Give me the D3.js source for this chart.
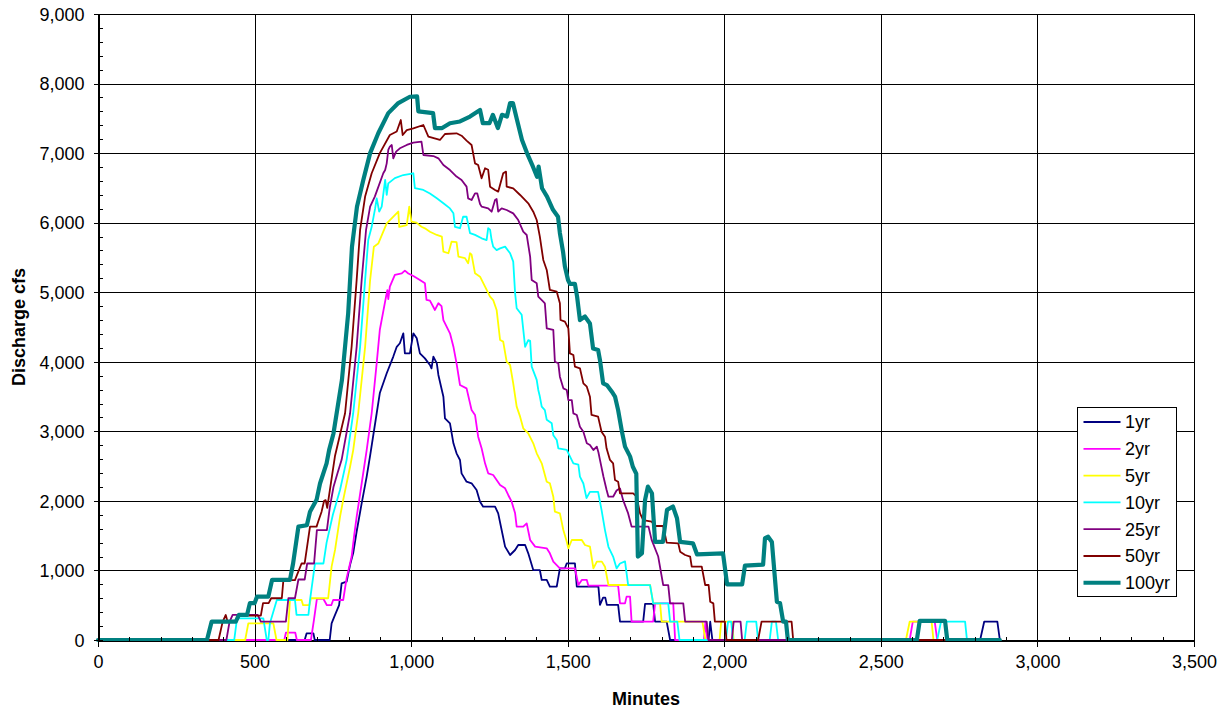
<!DOCTYPE html>
<html>
<head>
<meta charset="utf-8">
<script src="https://cdn.jsdelivr.net/npm/d3@7"></script>
<style>
  html, body { margin: 0; padding: 0; background: #fff; }
  svg { display: block; font-family: "Liberation Sans", Arial, sans-serif; }
</style>
</head>
<body>
<svg id="chart" width="1230" height="712"></svg>
<script>
// Discharge hydrographs (minute, cfs) for each storm return period
const q1yr = [[0,0],[660,0],[666,95],[688,95],[692,0],[740,0],[746,240],[755,340],[770,500],[778,815],[794,840],[805,1080],[815,1250],[826,1560],[842,1965],[858,2350],[869,2650],[890,3260],[900,3550],[922,3835],[943,4075],[954,4215],[964,4266],[975,4409],[980,4121],[996,4121],[1007,4409],[1018,4337],[1028,4121],[1044,4049],[1060,3954],[1065,3906],[1071,4073],[1082,3978],[1087,3810],[1098,3594],[1103,3498],[1108,3187],[1124,3115],[1135,2828],[1145,2684],[1156,2588],[1161,2396],[1177,2276],[1193,2253],[1209,2157],[1220,1989],[1230,1917],[1268,1917],[1278,1821],[1289,1581],[1300,1342],[1316,1222],[1332,1294],[1342,1366],[1364,1366],[1374,1246],[1390,1006],[1411,1006],[1417,863],[1433,863],[1443,767],[1465,767],[1475,1031],[1491,1031],[1497,1103],[1523,1103],[1529,767],[1598,767],[1603,505],[1613,610],[1620,610],[1625,505],[1661,505],[1667,263],[1741,263],[1747,520],[1773,520],[1779,263],[1816,263],[1827,0],[1950,0],[1955,263],[1962,0],[2817,0],[2830,263],[2872,263],[2880,0]];

const q2yr = [[0,0],[595,0],[600,105],[630,105],[635,0],[680,0],[690,300],[699,590],[720,590],[731,500],[745,500],[751,575],[783,575],[794,890],[810,1200],[818,1500],[826,1770],[842,2250],[858,2730],[874,3260],[890,3980],[900,4460],[920,4940],[924,5030],[927,4900],[932,5080],[948,5250],[970,5270],[980,5310],[991,5270],[1007,5233],[1028,5176],[1044,5128],[1049,4890],[1060,4880],[1076,4745],[1087,4841],[1097,4800],[1103,4600],[1124,4409],[1135,4217],[1145,3978],[1156,3666],[1177,3618],[1193,3307],[1204,3235],[1214,2923],[1225,2756],[1236,2540],[1246,2396],[1262,2372],[1273,2300],[1284,2228],[1300,2181],[1310,2085],[1321,1989],[1332,1821],[1337,1629],[1358,1629],[1369,1677],[1380,1438],[1396,1342],[1433,1318],[1443,1246],[1454,1127],[1475,1031],[1523,1031],[1534,791],[1545,863],[1561,863],[1566,781],[1661,781],[1667,527],[1683,527],[1688,623],[1699,623],[1704,263],[1773,263],[1779,527],[1837,527],[1843,0],[1935,0],[1940,263],[1946,0],[2592,0],[2602,263],[2672,263],[2680,0],[2880,0]];

const q5yr = [[0,0],[470,0],[480,240],[560,240],[570,0],[605,0],[613,575],[650,575],[655,500],[675,500],[680,600],[735,600],[746,1055],[757,1295],[773,1775],[783,2015],[805,2490],[815,2730],[831,3260],[853,4215],[869,5175],[881,5655],[895,5700],[922,5990],[948,6110],[959,6160],[962,5940],[986,5966],[994,6230],[1001,6014],[1017,6000],[1033,5942],[1044,5918],[1060,5870],[1082,5823],[1098,5799],[1103,5584],[1119,5560],[1129,5727],[1145,5720],[1151,5511],[1172,5490],[1182,5416],[1188,5560],[1193,5540],[1204,5272],[1220,5224],[1236,5080],[1252,4936],[1262,4888],[1273,4745],[1284,4313],[1294,4290],[1305,4001],[1316,3954],[1326,3690],[1337,3355],[1348,3211],[1358,3043],[1374,2972],[1390,2828],[1401,2684],[1417,2540],[1433,2276],[1443,2253],[1454,2060],[1459,1845],[1475,1821],[1486,1581],[1497,1413],[1502,1318],[1513,1438],[1545,1438],[1555,1366],[1571,1342],[1582,1031],[1593,1127],[1609,1127],[1619,1054],[1630,791],[1763,791],[1773,527],[1795,527],[1800,263],[1930,263],[1940,0],[1985,0],[1990,263],[2025,263],[2030,0],[2580,0],[2592,263],[2662,263],[2668,0],[2880,0]];

const q10yr = [[0,0],[435,0],[444,310],[528,310],[539,0],[544,0],[549,240],[571,575],[629,575],[634,360],[672,360],[677,575],[688,935],[693,1100],[720,1100],[730,1400],[750,1800],[773,2160],[794,2590],[815,3260],[837,4215],[853,5175],[863,5750],[874,5940],[885,6205],[890,6350],[898,6160],[906,6230],[917,6615],[922,6400],[927,6565],[948,6640],[975,6685],[1007,6710],[1012,6495],[1039,6470],[1060,6420],[1082,6350],[1103,6280],[1124,6205],[1135,6135],[1140,5940],[1156,5920],[1166,6085],[1177,6085],[1188,5850],[1204,5825],[1225,5775],[1241,5750],[1246,5920],[1252,5900],[1257,5750],[1262,5655],[1273,5605],[1284,5630],[1300,5655],[1316,5560],[1326,5440],[1332,4985],[1337,4770],[1353,4675],[1364,4215],[1374,4310],[1380,4300],[1385,3930],[1401,3740],[1406,3595],[1411,3500],[1417,3355],[1427,3305],[1433,3165],[1449,3115],[1454,2945],[1465,2875],[1470,2755],[1497,2732],[1507,2640],[1518,2540],[1534,2520],[1539,2350],[1550,2250],[1560,2040],[1571,2130],[1597,2130],[1608,1870],[1619,1580],[1630,1340],[1645,1200],[1656,1030],[1667,1100],[1683,1130],[1693,790],[1763,790],[1773,527],[1821,527],[1827,263],[1850,263],[1857,0],[2005,0],[2012,263],[2022,263],[2028,0],[2065,0],[2072,263],[2102,263],[2108,0],[2145,0],[2152,263],[2165,263],[2172,0],[2680,0],[2692,263],[2769,263],[2775,0],[2880,0]];

const q25yr = [[0,0],[410,0],[420,260],[430,360],[510,360],[520,265],[600,265],[608,600],[629,600],[640,870],[660,870],[668,1100],[690,1100],[699,1580],[731,1580],[740,1900],[752,2200],[765,2400],[778,2590],[805,3260],[826,4215],[842,5175],[856,5895],[869,6230],[884,6375],[911,6710],[917,6757],[922,6853],[927,7045],[932,7093],[938,7117],[943,6925],[952,7021],[964,7069],[986,7117],[1007,7150],[1033,7165],[1039,6973],[1071,6958],[1087,6925],[1103,6829],[1124,6757],[1145,6662],[1161,6614],[1177,6518],[1182,6350],[1193,6326],[1204,6422],[1211,6422],[1220,6269],[1225,6230],[1246,6206],[1257,6158],[1268,6326],[1273,6340],[1278,6158],[1289,6206],[1305,6182],[1326,6134],[1342,6038],[1358,5870],[1369,5823],[1380,5511],[1385,5176],[1401,5128],[1406,4936],[1422,4864],[1427,4841],[1433,4481],[1454,4457],[1459,4001],[1470,3978],[1475,3786],[1486,3618],[1497,3594],[1502,3450],[1513,3450],[1518,3259],[1529,3235],[1539,3067],[1550,2995],[1561,2828],[1571,2804],[1582,2732],[1593,2779],[1598,2700],[1603,2590],[1614,2350],[1624,2160],[1630,2060],[1645,2060],[1656,2150],[1667,2180],[1677,2010],[1693,1820],[1704,1630],[1758,1630],[1768,1440],[1789,1200],[1805,790],[1821,790],[1827,527],[1869,527],[1875,263],[1944,263],[1949,0],[2024,0],[2030,263],[2052,263],[2057,0],[2880,0]];

const q50yr = [[0,0],[385,0],[398,260],[408,360],[414,260],[440,260],[446,350],[520,350],[527,530],[545,530],[553,600],[587,600],[592,860],[629,860],[650,1100],[660,1100],[677,1630],[698,1630],[703,1700],[714,1845],[722,2000],[727,2010],[732,1900],[742,2200],[757,2650],[789,3260],[810,4220],[826,5175],[837,5895],[853,6375],[874,6710],[900,7000],[932,7260],[954,7310],[967,7476],[973,7260],[986,7330],[1007,7357],[1039,7404],[1055,7237],[1092,7189],[1108,7275],[1145,7285],[1161,7250],[1177,7180],[1193,7117],[1204,6853],[1214,6830],[1225,6638],[1236,6782],[1246,6760],[1252,6518],[1268,6470],[1278,6446],[1294,6710],[1303,6734],[1305,6518],[1326,6494],[1348,6398],[1374,6278],[1390,6158],[1401,6038],[1411,5799],[1422,5464],[1433,5320],[1438,5176],[1443,5032],[1465,5008],[1475,4841],[1477,4601],[1491,4577],[1502,4481],[1507,4121],[1518,4098],[1523,3930],[1539,3906],[1550,3690],[1561,3642],[1571,3498],[1576,3235],[1597,3211],[1608,2995],[1619,2923],[1624,2756],[1635,2588],[1645,2540],[1651,2300],[1661,2276],[1667,2109],[1709,2109],[1720,2060],[1731,1821],[1741,1725],[1768,1701],[1779,1639],[1805,1639],[1816,1399],[1853,1390],[1859,1270],[1875,1222],[1891,1198],[1896,1054],[1928,1054],[1939,791],[1950,791],[1955,551],[1965,527],[1970,263],[2002,263],[2007,0],[2108,0],[2119,263],[2215,263],[2220,0],[2880,0]];

const q100yr = [[0,0],[348,0],[363,265],[440,265],[450,360],[476,360],[485,530],[500,530],[508,625],[544,625],[556,865],[613,865],[623,1100],[640,1630],[667,1650],[677,1845],[698,2015],[709,2250],[730,2540],[738,2730],[752,2970],[779,3740],[799,4700],[811,5650],[827,6230],[847,6610],[869,7000],[895,7285],[927,7575],[959,7720],[996,7810],[1019,7815],[1023,7600],[1070,7575],[1076,7360],[1099,7360],[1124,7430],[1156,7455],[1188,7525],[1220,7620],[1229,7430],[1250,7430],[1261,7550],[1277,7360],[1290,7550],[1306,7525],[1316,7720],[1325,7720],[1338,7480],[1354,7190],[1370,7000],[1389,6805],[1402,6660],[1407,6805],[1418,6495],[1434,6375],[1453,6185],[1469,6085],[1475,5850],[1485,5585],[1491,5370],[1501,5175],[1507,5120],[1523,5120],[1530,4935],[1539,4600],[1555,4650],[1571,4550],[1581,4190],[1597,4170],[1603,4025],[1613,3690],[1625,3665],[1641,3570],[1651,3500],[1661,3305],[1673,3000],[1683,2780],[1699,2640],[1708,2490],[1719,2390],[1724,1200],[1737,1245],[1747,2015],[1756,2205],[1769,2110],[1779,1410],[1804,1410],[1817,1870],[1836,1920],[1849,1750],[1859,1410],[1900,1390],[1913,1230],[1996,1245],[2009,800],[2057,800],[2066,1070],[2124,1085],[2130,1465],[2140,1485],[2152,1410],[2168,550],[2178,530],[2188,265],[2197,265],[2203,0],[2615,0],[2624,275],[2705,275],[2712,0],[2880,0]];

const seriesLabels = ["1yr", "2yr", "5yr", "10yr", "25yr", "50yr", "100yr"];
const seriesData = [q1yr, q2yr, q5yr, q10yr, q25yr, q50yr, q100yr];

const xTickValues = [0, 500, 1000, 1500, 2000, 2500, 3000, 3500];
const yTickValues = [0, 1000, 2000, 3000, 4000, 5000, 6000, 7000, 8000, 9000];
const xTitle = "Minutes";
const yTitle = "Discharge cfs";

// Appearance of each series line
const lineColors = ["#000080", "#FF00FF", "#FFFF00", "#00FFFF", "#800080", "#800000", "#008080"];
const lineWidths = [1.8, 1.8, 1.8, 1.8, 1.8, 1.8, 4.2];

const plot = { left: 98, right: 1194, top: 14, bottom: 640 };
const FONT = 18;

const svg = d3.select("#chart");

const x = d3.scaleLinear().domain([0, 3500]).range([plot.left, plot.right]);
const y = d3.scaleLinear().domain([0, 9000]).range([plot.bottom, plot.top]);

// Gridlines
const grid = svg.append("g").attr("shape-rendering", "crispEdges");
grid.selectAll("line.gx").data(xTickValues).join("line")
  .attr("x1", d => Math.round(x(d)) + 0.5).attr("x2", d => Math.round(x(d)) + 0.5)
  .attr("y1", plot.top).attr("y2", plot.bottom)
  .attr("stroke", "#000").attr("stroke-width", 1);
grid.selectAll("line.gy").data(yTickValues).join("line")
  .attr("y1", d => Math.round(y(d)) + 0.5).attr("y2", d => Math.round(y(d)) + 0.5)
  .attr("x1", plot.left).attr("x2", plot.right)
  .attr("stroke", "#000").attr("stroke-width", 1);

// Plot border
svg.append("rect")
  .attr("x", plot.left + 0.5).attr("y", plot.top + 0.5)
  .attr("width", plot.right - plot.left).attr("height", plot.bottom - plot.top)
  .attr("fill", "none").attr("stroke", "#000").attr("stroke-width", 1)
  .attr("shape-rendering", "crispEdges");

// Series lines, 1yr underneath through 100yr on top
const line = d3.line().x(d => x(d[0])).y(d => y(d[1]));
svg.append("g").selectAll("path").data(seriesData).join("path")
  .attr("d", d => line(d))
  .attr("fill", "none")
  .attr("stroke", (d, i) => lineColors[i])
  .attr("stroke-width", (d, i) => lineWidths[i])
  .attr("stroke-linejoin", "round")
  .attr("stroke-linecap", "round");

// Axes
const fmt = d3.format(",");
const xAxis = svg.append("g").attr("transform", `translate(0,${plot.bottom + 0.5})`)
  .call(d3.axisBottom(x).tickValues(xTickValues).tickFormat(fmt).tickSize(6).tickSizeOuter(0).tickPadding(4));
const xMinor = svg.append("g").attr("transform", `translate(0,${plot.bottom + 0.5})`)
  .call(d3.axisBottom(x).tickValues(d3.range(0, 3501, 100)).tickFormat("").tickSize(-4).tickSizeOuter(0));
const yAxis = svg.append("g").attr("transform", `translate(${plot.left + 0.5},0)`)
  .call(d3.axisLeft(y).tickValues(yTickValues).tickFormat(fmt).tickSize(5).tickSizeOuter(0).tickPadding(9));
const yMinor = svg.append("g").attr("transform", `translate(${plot.left + 0.5},0)`)
  .call(d3.axisLeft(y).tickValues(d3.range(0, 9001, 200)).tickFormat("").tickSize(-4).tickSizeOuter(0));

[xAxis, xMinor, yAxis, yMinor].forEach(g => {
  g.attr("font-family", null).attr("font-size", null);
  g.selectAll(".domain").attr("stroke", "#000").attr("shape-rendering", "crispEdges");
  g.selectAll(".tick line").attr("stroke", "#000").attr("shape-rendering", "crispEdges");
  g.selectAll(".tick text").attr("fill", "#000").style("font-size", FONT + "px");
});
xAxis.selectAll(".tick text").attr("dy", "0.95em");
yAxis.selectAll(".tick text").attr("dy", "0.35em");

// Axis titles
svg.append("text")
  .attr("x", (plot.left + plot.right) / 2).attr("y", 705)
  .attr("text-anchor", "middle").attr("font-weight", "bold")
  .style("font-size", FONT + "px").text(xTitle);
svg.append("text")
  .attr("transform", `translate(25,${(plot.top + plot.bottom) / 2}) rotate(-90)`)
  .attr("text-anchor", "middle").attr("font-weight", "bold")
  .style("font-size", FONT + "px").text(yTitle);

// Legend
const legend = svg.append("g").attr("transform", "translate(1077.5,407.5)");
legend.append("rect").attr("width", 99).attr("height", 189)
  .attr("fill", "#fff").attr("stroke", "#000").attr("stroke-width", 1);
const item = legend.selectAll("g.item").data(seriesLabels).join("g")
  .attr("transform", (d, i) => `translate(0,${14.5 + i * 26.8})`);
item.append("line").attr("x1", 6).attr("x2", 43).attr("y1", 0).attr("y2", 0)
  .attr("stroke", (d, i) => lineColors[i])
  .attr("stroke-width", (d, i) => (i === 6 ? 4 : 1.8));
item.append("text").attr("x", 47.5).attr("dy", "0.35em")
  .style("font-size", FONT + "px").text(d => d);
</script>
</body>
</html>
